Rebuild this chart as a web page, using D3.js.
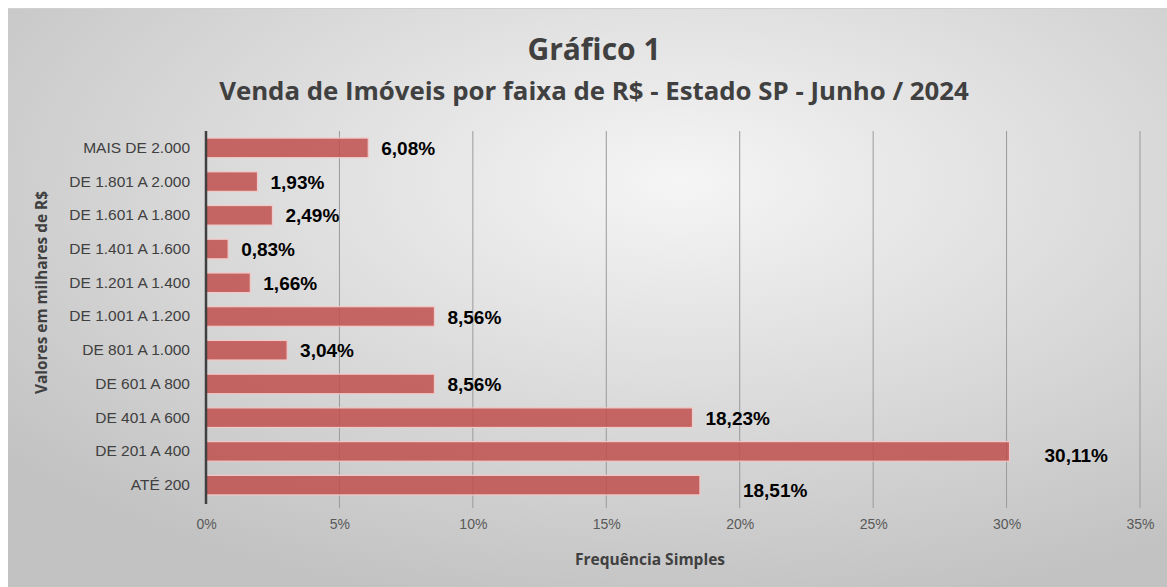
<!DOCTYPE html>
<html>
<head>
<meta charset="utf-8">
<script src="https://cdn.jsdelivr.net/npm/d3@7"></script>
<style>
  body { margin: 0; background: #fff; }
  svg { display: block; }
</style>
</head>
<body>
<svg id="chart" width="1167" height="587"></svg>
<script>
const categories = ['MAIS DE 2.000', 'DE 1.801 A 2.000', 'DE 1.601 A 1.800', 'DE 1.401 A 1.600',
  'DE 1.201 A 1.400', 'DE 1.001 A 1.200', 'DE 801 A 1.000', 'DE 601 A 800',
  'DE 401 A 600', 'DE 201 A 400', 'ATÉ 200'];
const values = [6.08, 1.93, 2.49, 0.83, 1.66, 8.56, 3.04, 8.56, 18.23, 30.11, 18.51];
const labels = ['6,08%', '1,93%', '2,49%', '0,83%', '1,66%', '8,56%', '3,04%', '8,56%', '18,23%', '30,11%', '18,51%'];
const xTicks = [0, 5, 10, 15, 20, 25, 30, 35];

const svg = d3.select('#chart');
const width = +svg.attr('width');
const height = +svg.attr('height');

// background panel with soft radial gradient
const defs = svg.append('defs');
const grad = defs.append('radialGradient')
  .attr('id', 'bg')
  .attr('cx', '58%').attr('cy', '30%').attr('r', '75%');
grad.append('stop').attr('offset', '0%').attr('stop-color', '#f5f5f5');
grad.append('stop').attr('offset', '100%').attr('stop-color', '#c2c2c2');

svg.append('rect')
  .attr('x', 8).attr('y', 8)
  .attr('width', width - 8).attr('height', height - 8)
  .attr('fill', 'url(#bg)');
svg.append('line')
  .attr('x1', 8).attr('x2', width).attr('y1', 8.5).attr('y2', 8.5)
  .attr('stroke', '#d0d0d0');

const plotLeft = 206, plotRight = 1140, plotTop = 131, plotBottom = 502;

const x = d3.scaleLinear().domain([0, 35]).range([plotLeft, plotRight]);
const y = d3.scaleBand().domain(categories).range([plotTop, plotBottom]).paddingInner(0.42).paddingOuter(0.21);

// gridlines
svg.append('g')
  .selectAll('line')
  .data(xTicks.slice(1))
  .enter().append('line')
  .attr('x1', d => x(d)).attr('x2', d => x(d))
  .attr('y1', plotTop).attr('y2', plotBottom + 6)
  .attr('stroke', '#9a9a9a')
  .attr('stroke-width', 1);

// x tick labels
svg.append('g')
  .attr('transform', `translate(0, ${plotBottom})`)
  .call(d3.axisBottom(x).tickValues(xTicks).tickSize(0).tickPadding(17).tickFormat(d => d + '%'))
  .call(g => g.select('.domain').remove())
  .call(g => g.selectAll('text')
    .attr('fill', '#595959')
    .attr('font-family', 'Liberation Sans, Arial, sans-serif')
    .attr('font-size', 14));

// bars
svg.append('g')
  .selectAll('rect')
  .data(values)
  .enter().append('rect')
  .attr('x', x(0))
  .attr('y', (d, i) => y(categories[i]))
  .attr('width', d => x(d) - x(0))
  .attr('height', y.bandwidth())
  .attr('fill', '#c0504d')
  .attr('fill-opacity', 0.85)
  .attr('stroke', '#f2c9c8')
  .attr('stroke-width', 1.2);

// y axis
svg.append('g')
  .attr('transform', `translate(${plotLeft}, 0)`)
  .call(d3.axisLeft(y).tickSize(0).tickPadding(16))
  .call(g => g.select('.domain').remove())
  .call(g => g.selectAll('text')
    .attr('fill', '#404040')
    .attr('font-family', 'Liberation Sans, Arial, sans-serif')
    .attr('font-size', 15.5));

svg.append('line')
  .attr('x1', plotLeft).attr('x2', plotLeft)
  .attr('y1', plotTop).attr('y2', plotBottom + 2)
  .attr('stroke', '#404040')
  .attr('stroke-width', 2.5);

// data labels (some are nudged, as in the source chart)
const nudge = { '30,11%': [22, 4], '18,51%': [30, 5] };
svg.append('g')
  .selectAll('text')
  .data(values)
  .enter().append('text')
  .attr('x', (d, i) => x(d) + 13 + (nudge[labels[i]] ? nudge[labels[i]][0] : 0))
  .attr('y', (d, i) => y(categories[i]) + y.bandwidth() / 2 + 2 + (nudge[labels[i]] ? nudge[labels[i]][1] : 0))
  .attr('dominant-baseline', 'middle')
  .attr('font-family', 'Liberation Sans, Arial, sans-serif')
  .attr('font-weight', 'bold')
  .attr('font-size', 19)
  .attr('fill', '#000')
  .text((d, i) => labels[i]);

// titles
svg.append('text')
  .attr('x', 594).attr('y', 60)
  .attr('text-anchor', 'middle')
  .attr('font-family', 'Open Sans, sans-serif')
  .attr('font-weight', 'bold')
  .attr('font-size', 30)
  .attr('fill', '#404040')
  .text('Gráfico 1');

svg.append('text')
  .attr('x', 594).attr('y', 100)
  .attr('text-anchor', 'middle')
  .attr('font-family', 'Open Sans, sans-serif')
  .attr('font-weight', 'bold')
  .attr('font-size', 25.8)
  .attr('fill', '#404040')
  .text('Venda de Imóveis por faixa de R$ - Estado SP - Junho / 2024');

svg.append('text')
  .attr('transform', `translate(47, ${(plotTop + plotBottom) / 2 - 24}) rotate(-90)`)
  .attr('text-anchor', 'middle')
  .attr('font-family', 'Open Sans, sans-serif')
  .attr('font-weight', 'bold')
  .attr('font-size', 15.4)
  .attr('fill', '#404040')
  .text('Valores em milhares de R$');

svg.append('text')
  .attr('x', 650).attr('y', 565)
  .attr('text-anchor', 'middle')
  .attr('font-family', 'Open Sans, sans-serif')
  .attr('font-weight', 'bold')
  .attr('font-size', 15.5)
  .attr('fill', '#404040')
  .text('Frequência Simples');
</script>
</body>
</html>
